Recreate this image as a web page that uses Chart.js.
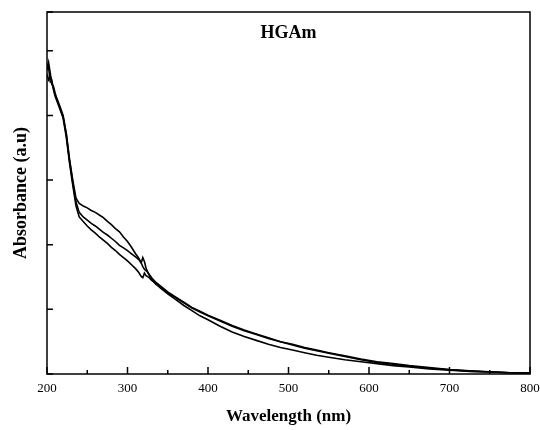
<!DOCTYPE html>
<html>
<head>
<meta charset="utf-8">
<script src="https://cdn.jsdelivr.net/npm/chart.js@4"></script>
<style>
  body { margin: 0; background: #fff; }
  #wrap { width: 540px; height: 430px; }
</style>
</head>
<body>
<div id="wrap"><canvas id="chart"></canvas></div>
<script>
var wavelengths = [200, 202, 204, 206, 208, 210, 213, 216, 220, 224, 228, 232, 236, 240, 245, 250, 255, 260, 265, 270,
    275, 280, 285, 290, 295, 300, 305, 310, 314, 317, 319, 321, 323, 326, 330, 335, 340, 345, 350, 360,
    370, 380, 390, 400, 415, 430, 445, 460, 475, 490, 505, 520, 535, 550, 570, 590, 610, 630, 650, 675,
    700, 725, 750, 775, 800];
var scanA = [4.80, 4.74, 4.52, 4.50, 4.42, 4.32, 4.24, 4.14, 4.00, 3.72, 3.32, 3.00, 2.72, 2.64, 2.60, 2.57, 2.53, 2.50, 2.46, 2.42,
    2.36, 2.31, 2.25, 2.20, 2.12, 2.05, 1.96, 1.86, 1.79, 1.72, 1.66, 1.62, 1.60, 1.56, 1.49, 1.42, 1.37, 1.32, 1.27, 1.19,
    1.11, 1.03, 0.97, 0.91, 0.83, 0.75, 0.68, 0.62, 0.56, 0.50, 0.46, 0.41, 0.37, 0.33, 0.28, 0.23, 0.19, 0.16, 0.13, 0.10,
    0.07, 0.05, 0.035, 0.02, 0.015];
var scanB = [4.70, 4.82, 4.66, 4.48, 4.45, 4.35, 4.22, 4.12, 3.98, 3.70, 3.30, 2.96, 2.66, 2.50, 2.43, 2.38, 2.33, 2.29, 2.24, 2.19,
    2.15, 2.10, 2.05, 1.99, 1.95, 1.91, 1.86, 1.81, 1.77, 1.72, 1.80, 1.74, 1.64, 1.55, 1.46, 1.39, 1.35, 1.30, 1.25, 1.18,
    1.10, 1.02, 0.96, 0.90, 0.82, 0.74, 0.67, 0.61, 0.55, 0.50, 0.45, 0.40, 0.36, 0.32, 0.27, 0.22, 0.18, 0.15, 0.12, 0.09,
    0.065, 0.045, 0.03, 0.02, 0.015];
var scanC = [4.64, 4.55, 4.60, 4.55, 4.40, 4.30, 4.20, 4.10, 3.96, 3.66, 3.26, 2.92, 2.60, 2.43, 2.36, 2.29, 2.23, 2.18, 2.12, 2.07,
    2.02, 1.96, 1.91, 1.85, 1.80, 1.75, 1.69, 1.63, 1.57, 1.51, 1.49, 1.56, 1.52, 1.50, 1.45, 1.41, 1.34, 1.29, 1.24, 1.15,
    1.06, 0.98, 0.90, 0.84, 0.74, 0.65, 0.58, 0.52, 0.46, 0.41, 0.37, 0.33, 0.29, 0.26, 0.22, 0.19, 0.16, 0.13, 0.11, 0.08,
    0.06, 0.04, 0.03, 0.02, 0.015];
var xLabels = [200, 300, 400, 500, 600, 700, 800];

var serif = "'Liberation Serif', 'DejaVu Serif', serif";

function toPoints(vals) {
    return wavelengths.map(function (w, i) { return { x: w, y: vals[i] }; });
}

function line(vals) {
    return {
        data: toPoints(vals),
        borderColor: '#000',
        borderWidth: 1.6,
        pointRadius: 0,
        tension: 0,
        fill: false
    };
}

// frame, inward ticks and the sample name inside the plot
var framePlugin = {
    id: 'frame',
    afterDraw: function (chart) {
        var ctx = chart.ctx;
        var a = chart.chartArea;
        var xs = chart.scales.x, ys = chart.scales.y;
        ctx.save();
        ctx.strokeStyle = '#000';
        ctx.lineWidth = 1.5;
        ctx.strokeRect(a.left, a.top, a.right - a.left, a.bottom - a.top);
        ctx.beginPath();
        xs.ticks.forEach(function (t) {
            var px = xs.getPixelForValue(t.value);
            var len = (t.value % 100 === 0) ? 7 : 4;
            ctx.moveTo(px, a.bottom);
            ctx.lineTo(px, a.bottom - len);
        });
        ys.ticks.forEach(function (t) {
            var py = ys.getPixelForValue(t.value);
            ctx.moveTo(a.left, py);
            ctx.lineTo(a.left + 6, py);
        });
        ctx.stroke();
        ctx.fillStyle = '#000';
        ctx.font = 'bold 18px ' + serif;
        ctx.textAlign = 'center';
        ctx.textBaseline = 'middle';
        ctx.fillText('HGAm', (a.left + a.right) / 2, a.top + 21);
        ctx.restore();
    }
};

new Chart(document.getElementById('chart'), {
    type: 'line',
    data: {
        datasets: [line(scanA), line(scanB), line(scanC)]
    },
    options: {
        responsive: true,
        maintainAspectRatio: false,
        animation: false,
        layout: { padding: { top: 12, right: 0, left: 0, bottom: 0 } },
        plugins: {
            legend: { display: false },
            tooltip: { enabled: false }
        },
        scales: {
            x: {
                type: 'linear',
                min: 200,
                max: 800,
                afterFit: function (s) { s.height = 56; s.paddingRight = 10; },
                grid: { display: false, drawTicks: false },
                border: { display: false },
                ticks: {
                    stepSize: 50,
                    autoSkip: false,
                    maxRotation: 0,
                    padding: 7,
                    color: '#000',
                    font: { family: serif, size: 13 },
                    callback: function (v) { return xLabels.indexOf(v) >= 0 ? String(v) : ''; }
                },
                title: {
                    display: true,
                    text: 'Wavelength (nm)',
                    color: '#000',
                    font: { family: serif, size: 17, weight: 'bold' },
                    padding: { top: 0, bottom: 3 }
                }
            },
            y: {
                min: 0,
                max: 5.6,
                afterFit: function (s) { s.width = 47; },
                grid: { display: false, drawTicks: false },
                border: { display: false },
                ticks: {
                    stepSize: 1,
                    display: false
                },
                title: {
                    display: true,
                    text: 'Absorbance (a.u)',
                    color: '#000',
                    font: { family: serif, size: 18, weight: 'bold' },
                    padding: { top: 11, bottom: 0 }
                }
            }
        }
    },
    plugins: [framePlugin]
});
</script>
</body>
</html>
